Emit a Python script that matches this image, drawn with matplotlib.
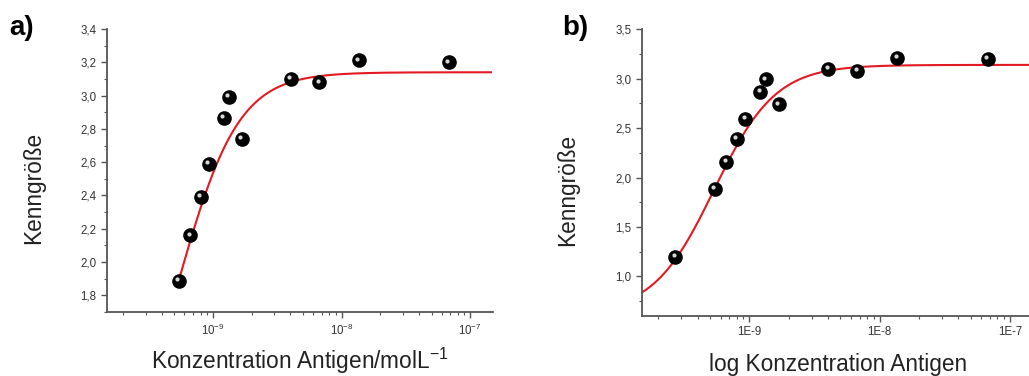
import numpy as np
import matplotlib
matplotlib.use("Agg")
import matplotlib.pyplot as plt
from matplotlib.ticker import LogLocator, MultipleLocator, FixedLocator, FuncFormatter, NullFormatter
from matplotlib.transforms import offset_copy

plt.rcParams['font.family'] = ['Liberation Sans', 'DejaVu Sans']
plt.rcParams['mathtext.fontset'] = 'custom'
plt.rcParams['mathtext.rm'] = 'Liberation Sans'
plt.rcParams['mathtext.it'] = 'Liberation Sans:italic'

# data
conc = [2.69e-10, 5.4e-10, 6.66e-10, 8.0e-10, 9.3e-10, 1.21e-9, 1.33e-9,
        1.68e-9, 4.04e-9, 6.7e-9, 1.36e-8, 6.78e-8]
kenn = [1.20, 1.886, 2.161, 2.393, 2.592, 2.868, 2.993, 2.740, 3.101, 3.079,
        3.211, 3.199]
# panel a leaves out the lowest concentration
conc_a = conc[1:]
kenn_a = kenn[1:]

# dose-response fit (Origin DoseResp), parameters estimated from the red curve
A1 = 0.62
A2 = 3.14
logx0 = -9.27
p = 1.85

spine_col = '#555555'
text_col = '#222222'
red = '#e41a22'


def fit(x):
    return A2 + (A1 - A2) / (1 + 10 ** ((np.log10(x) - logx0) * p))


def style_axes(ax):
    for s in ['top', 'right']:
        ax.spines[s].set_visible(False)
    for s in ['left', 'bottom']:
        ax.spines[s].set_color(spine_col)
        ax.spines[s].set_linewidth(1.3)
    ax.tick_params(which='major', length=4, width=1, color=spine_col,
                   labelsize=8.3, labelcolor='#333333')
    ax.tick_params(which='minor', length=2.5, width=0.8, color=spine_col)
    ax.set_xscale('log')
    ax.xaxis.set_minor_locator(LogLocator(base=10, subs=np.arange(2, 10)))
    ax.xaxis.set_minor_formatter(NullFormatter())


def spheres(ax, x, y):
    ax.plot(x, y, 'o', color='black', markersize=9.5, zorder=3)
    hl = offset_copy(ax.transData, fig=fig, x=-1.5, y=1.8, units='dots')
    ax.plot(x, y, 'o', color='white', markersize=3.0, alpha=0.85,
            markeredgewidth=0, transform=hl, zorder=4)


fig = plt.figure(figsize=(10.29, 3.76), dpi=100)

# panel a
ax1 = fig.add_axes([0.104, 0.170, 0.375, 0.753])
style_axes(ax1)
xa = np.logspace(np.log10(conc_a[0]), np.log10(1.45e-7), 300)
ax1.plot(xa, fit(xa), color=red, lw=1.5, zorder=2)
spheres(ax1, conc_a, kenn_a)
ax1.set_xlim(1.5e-10, 1.5e-7)
ax1.set_ylim(1.7, 3.4)
ax1.yaxis.set_major_locator(FixedLocator([1.8, 2.0, 2.2, 2.4, 2.6, 2.8, 3.0, 3.2, 3.4]))
ax1.yaxis.set_minor_locator(MultipleLocator(0.1))
ax1.yaxis.set_major_formatter(FuncFormatter(lambda v, pos: f"{v:.1f}".replace('.', ',')))
ax1.xaxis.set_major_locator(FixedLocator([1e-9, 1e-8, 1e-7]))
ax1.xaxis.set_major_formatter(FuncFormatter(lambda v, pos: r"10$^{%d}$" % round(np.log10(v))))
ax1.set_ylabel('Kenngröße', fontsize=16.3, color=text_col)
ax1.set_xlabel('Konzentration Antigen/molL$^{-1}$', fontsize=16.3, color=text_col)
ax1.yaxis.set_label_coords(-0.16, 0.44)
ax1.xaxis.set_label_coords(0.5, -0.12)

# panel b
ax2 = fig.add_axes([0.624, 0.160, 0.376, 0.762])
style_axes(ax2)
xb = np.logspace(np.log10(1.5e-10), np.log10(1.4e-7), 300)
ax2.plot(xb, fit(xb), color=red, lw=1.5, zorder=2)
spheres(ax2, conc, kenn)
ax2.set_xlim(1.5e-10, 1.4e-7)
ax2.set_ylim(0.6, 3.5)
ax2.yaxis.set_major_locator(FixedLocator([1.0, 1.5, 2.0, 2.5, 3.0, 3.5]))
ax2.yaxis.set_minor_locator(MultipleLocator(0.25))
ax2.yaxis.set_major_formatter(FuncFormatter(lambda v, pos: f"{v:.1f}".replace('.', ',')))
ax2.xaxis.set_major_locator(FixedLocator([1e-9, 1e-8, 1e-7]))
ax2.xaxis.set_major_formatter(FuncFormatter(lambda v, pos: "1E%d" % round(np.log10(v))))
ax2.set_ylabel('Kenngröße', fontsize=16.3, color=text_col)
ax2.set_xlabel('log Konzentration Antigen', fontsize=16.3, color=text_col)
ax2.yaxis.set_label_coords(-0.163, 0.44)
ax2.xaxis.set_label_coords(0.506, -0.13)

fig.text(0.009, 0.96, 'a)', fontsize=20, fontweight='bold', va='top', ha='left')
fig.text(0.546, 0.96, 'b)', fontsize=20, fontweight='bold', va='top', ha='left')

fig.savefig('out.png', dpi=100)
